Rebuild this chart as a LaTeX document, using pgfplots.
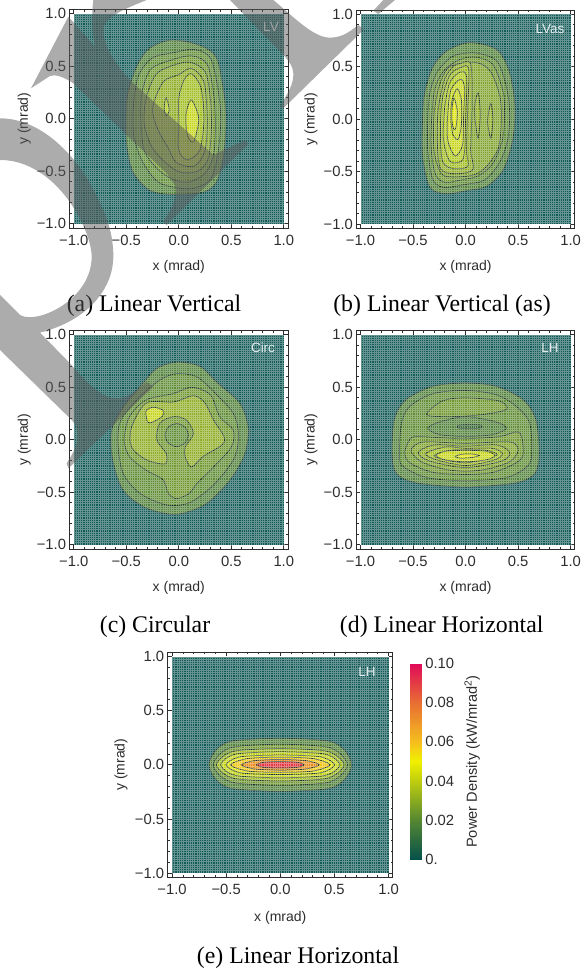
\documentclass[border=0pt]{standalone}
\usepackage{fontspec}
\setmainfont{Liberation Serif}
\setsansfont{Liberation Sans}
\usepackage{pgfplots}
\pgfplotsset{compat=1.18}
\definecolor{base}{RGB}{18,90,88}
\definecolor{c1}{RGB}{80,128,58}
\definecolor{c2}{RGB}{94,140,52}
\definecolor{c3}{RGB}{110,150,46}
\definecolor{c4}{RGB}{126,162,42}
\definecolor{c5}{RGB}{142,172,36}
\definecolor{c6}{RGB}{160,188,30}
\definecolor{c7}{RGB}{176,200,26}
\definecolor{c8}{RGB}{198,212,22}
\definecolor{c9}{RGB}{225,228,10}
\definecolor{o1}{RGB}{240,198,20}
\definecolor{o2}{RGB}{234,142,30}
\definecolor{o3}{RGB}{228,55,65}
\definecolor{v1}{RGB}{62,112,58}
\definecolor{cline}{RGB}{30,50,40}
\definecolor{txt}{RGB}{45,45,45}
\definecolor{wm}{RGB}{90,90,90}
\newcommand\C[2]{\addplot[fill=#1,draw=cline,line width=.75pt,smooth cycle] coordinates {#2};}
\newcommand\BG{\addplot[fill=base,draw=none] coordinates {(-1,-1)(1,-1)(1,1)(-1,1)} --cycle;}
\pgfplotsset{panel/.style={
  scale only axis, anchor=south west, width=218.4pt, height=218.4pt,
  xmin=-1.04,xmax=1.04,ymin=-1.04,ymax=1.04,
  xtick={-1,-.5,0,.5,1}, ytick={-1,-.5,0,.5,1},
  xticklabels={−1.0,−0.5,0.0,0.5,1.0}, yticklabels={−1.0,−0.5,0.0,0.5,1.0},
  minor x tick num=4, minor y tick num=4,
  tick align=inside, xtick pos=both, ytick pos=both, xticklabel pos=bottom, yticklabel pos=left,
  major tick length=4pt, minor tick length=2.2pt,
  axis line style={line width=.9pt,txt}, tick style={line width=.7pt,txt},
  tick label style={font=\fontsize{14.8}{14.8}\selectfont\sffamily,text=txt},
  xticklabel style={yshift=-3.5pt},
  xlabel={x (mrad)}, ylabel={y (mrad)},
  xlabel style={at={(axis description cs:0.5,-0.178)},anchor=center,font=\fontsize{14}{14}\selectfont\sffamily,text=txt},
  ylabel style={at={(axis description cs:-0.208,0.5)},rotate=0,anchor=center,font=\fontsize{14}{14}\selectfont\sffamily,text=txt},
}}
\newcommand\MESH[4]{% left, bottom, width, height (px, y up)
  \draw[white,opacity=.35,line width=.35pt]
  \foreach \i [evaluate=\i as \xx using #1+#3/97*\i] in {0,...,97} { (\xx pt,#2 pt) -- (\xx pt,#2 pt+#4 pt) }
  \foreach \i [evaluate=\i as \yy using #2+#4/97*\i] in {0,...,97} { (#1 pt,\yy pt) -- (#1 pt+#3 pt,\yy pt) };
}
\newcommand\CAP[3]{\node[font=\fontsize{23.8}{23.8}\selectfont,text=black] at (#1pt,966.5pt-#2pt) {#3};}
\newcommand\TAG[3]{\node[font=\fontsize{13.5}{13.5}\selectfont\sffamily,text=white,opacity=.85] at (#1pt,969pt-#2pt) {#3};}
\begin{document}
\begin{tikzpicture}
\clip (0,0) rectangle (586pt,969pt);
% (a)
\begin{axis}[panel,at={(69.6pt,741pt)}]
\BG
\C{c1}{(-.07,.75)(.2,.7)(.36,.58)(.43,.24)(.45,0)(.43,-.33)(.36,-.6)(.23,-.7)(-.07,-.72)(-.28,-.68)(-.44,-.5)(-.5,-.2)(-.49,.21)(-.4,.5)(-.28,.67)}
\C{c2}{(.15,.66)(.3,.58)(.37,.3)(.4,0)(.37,-.35)(.3,-.58)(.15,-.66)(0,-.66)(-.2,-.6)(-.35,-.4)(-.43,-.15)(-.43,.15)(-.38,.42)(-.25,.58)(-.05,.63)}
\C{c3}{(.12,.6)(.27,.52)(.33,.25)(.35,-.05)(.33,-.35)(.25,-.52)(.1,-.6)(-.05,-.58)(-.2,-.48)(-.33,-.3)(-.36,0)(-.35,.25)(-.27,.47)(-.1,.55)}
\C{c4}{(.1,.54)(.25,.45)(.3,.2)(.31,-.1)(.28,-.38)(.18,-.5)(.02,-.51)(-.1,-.44)(-.25,-.28)(-.33,-.05)(-.31,.2)(-.22,.42)(-.08,.5)}
\C{c5}{(.12,.48)(.24,.35)(.27,0)(.25,-.3)(.15,-.45)(-.02,-.42)(-.1,-.28)(-.2,-.1)(-.25,.1)(-.15,.35)(0,.42)}
\C{c6}{(.12,.43)(.21,.3)(.24,0)(.2,-.3)(.08,-.39)(0,-.3)(0,-.05)(0,.2)(.05,.37)}
\C{c7}{(-.12,.2)(-.09,.08)(-.12,.03)(-.14,.1)}
\C{c8}{(.12,.18)(.19,0)(.14,-.22)(.08,-.15)(.07,.05)}
\end{axis}
% (b)
\begin{axis}[panel,at={(356.4pt,740.6pt)}]
\BG
\C{c1}{(.04,.73)(.3,.66)(.42,.44)(.47,.12)(.45,-.19)(.36,-.48)(.2,-.64)(.01,-.68)(-.18,-.71)(-.34,-.65)(-.41,-.35)(-.41,0)(-.39,.25)(-.31,.5)(-.18,.65)}
\C{c2}{(.1,.63)(.3,.55)(.39,.3)(.42,.05)(.4,-.2)(.32,-.42)(.18,-.58)(0,-.62)(-.2,-.65)(-.31,-.58)(-.36,-.3)(-.36,0)(-.34,.25)(-.27,.45)(-.12,.6)}
\C{c3}{(.1,.59)(.26,.52)(.36,.25)(.37,0)(.35,-.2)(.26,-.42)(.12,-.54)(-.05,-.58)(-.2,-.6)(-.29,-.52)(-.33,-.25)(-.32,.05)(-.29,.3)(-.2,.47)(-.05,.57)}
\C{c4}{(.1,.54)(.24,.45)(.33,.2)(.34,-.05)(.31,-.28)(.2,-.45)(.08,-.53)(-.1,-.55)(-.23,-.52)(-.3,-.3)(-.3,.05)(-.25,.32)(-.15,.5)}
\C{c5}{(.12,.25)(.14,.05)(.12,-.18)(.09,0)(.09,.15)}
\C{c5}{(.24,.15)(.26,0)(.24,-.18)(.21,-.02)}
\C{c5}{(-.05,.53)(.05,.52)(.06,.1)(.05,-.3)(.07,-.48)(-.1,-.52)(-.24,-.47)(-.27,-.2)(-.26,.1)(-.2,.38)(-.12,.5)}
\C{c6}{(-.05,.49)(.03,.48)(.02,.1)(.01,-.3)(.02,-.45)(-.12,-.47)(-.22,-.4)(-.24,-.1)(-.22,.2)(-.15,.42)}
\C{c7}{(-.05,.45)(.01,.4)(0,0)(-.01,-.3)(-.04,-.4)(-.15,-.4)(-.21,-.2)(-.2,.1)(-.15,.35)}
\C{c8}{(-.05,.38)(-.01,.3)(-.02,0)(-.03,-.25)(-.1,-.35)(-.17,-.2)(-.17,.05)(-.14,.28)}
\C{c8}{(-.08,.29)(-.04,.18)(-.04,-.05)(-.07,-.19)(-.12,-.15)(-.14,0)(-.13,.18)}
\C{c9}{(-.11,.2)(-.08,.08)(-.09,-.07)(-.11,-.1)(-.13,-.02)(-.13,.1)}
\end{axis}
% (c)
\begin{axis}[panel,at={(69.6pt,420pt)}]
\BG
\C{c1}{(-.02,.74)(.2,.7)(.36,.55)(.58,.35)(.66,.12)(.63,-.13)(.49,-.38)(.26,-.61)(-.02,-.71)(-.31,-.65)(-.53,-.48)(-.63,-.19)(-.64,.09)(-.53,.31)(-.34,.54)(-.21,.68)}
\C{c2}{(-.02,.63)(.17,.6)(.33,.46)(.52,.25)(.57,.03)(.52,-.19)(.33,-.43)(.1,-.6)(-.12,-.62)(-.37,-.51)(-.53,-.32)(-.58,-.03)(-.55,.19)(-.37,.41)(-.18,.57)}
\C{c3}{(-.05,.44)(.12,.5)(.3,.43)(.39,.22)(.52,.09)(.5,-.07)(.33,-.26)(.17,-.42)(.1,-.51)(-.02,-.56)(-.1,-.51)(-.15,-.38)(-.31,-.29)(-.47,-.16)(-.52,0)(-.47,.22)(-.31,.38)}
\C{c5}{(-.05,.36)(.14,.42)(.25,.35)(.33,.19)(.43,.03)(.41,-.05)(.23,-.16)(.12,-.26)(.06,-.16)(.06,-.07)(.14,.06)(.07,.19)(-.05,.22)(-.18,.16)(-.21,0)(-.12,-.13)(-.13,-.23)(-.31,-.19)(-.45,-.07)(-.45,.12)(-.31,.35)}
\C{c2}{(-.02,.155)(.06,.12)(.09,.045)(.06,-.03)(-.02,-.065)(-.1,-.03)(-.13,.045)(-.1,.12)}
\C{c8}{(-.24,.31)(-.15,.28)(-.16,.22)(-.28,.16)(-.31,.22)(-.31,.28)}
\end{axis}
% (d)
\begin{axis}[panel,at={(356.4pt,420pt)}]
\BG
\C{c1}{(0,.54)(-.31,.51)(-.57,.38)(-.68,.19)(-.7,-.13)(-.66,-.32)(-.47,-.41)(0,-.45)(.48,-.41)(.66,-.32)(.7,-.13)(.67,.19)(.55,.38)(.29,.51)}
\C{c2}{(0,.47)(-.31,.44)(-.53,.32)(-.61,.16)(-.63,-.13)(-.6,-.25)(-.37,-.36)(0,-.39)(.39,-.36)(.59,-.25)(.63,-.13)(.61,.16)(.48,.32)(.29,.43)}
\C{c3}{(0,.4)(-.22,.37)(-.37,.24)(-.15,.22)(.16,.24)(.39,.29)(.32,.37)}
\C{c1}{(0,.22)(-.25,.17)(-.36,.11)(-.25,.05)(0,.03)(.26,.05)(.39,.11)(.29,.17)}
\C{v1}{(-.06,.14)(.14,.14)(.13,.11)(-.06,.11)}
\C{c3}{(-.49,.03)(-.25,.02)(0,.01)(.32,.03)(.51,.07)(.55,-.13)(.48,-.22)(.26,-.31)(0,-.33)(-.31,-.31)(-.53,-.22)(-.58,-.13)(-.55,-.03)}
\C{c4}{(-.4,-.02)(0,-.035)(.42,-.02)(.5,-.1)(.42,-.21)(.2,-.28)(0,-.3)(-.2,-.28)(-.42,-.21)(-.52,-.1)}
\C{c5}{(-.3,-.05)(0,-.06)(.3,-.05)(.42,-.12)(.35,-.2)(0,-.265)(-.35,-.2)(-.45,-.12)}
\C{c6}{(-.2,-.07)(0,-.08)(.25,-.08)(.35,-.13)(.28,-.19)(0,-.245)(-.28,-.19)(-.38,-.13)}
\C{c7}{(-.15,-.1)(0,-.095)(.2,-.1)(.3,-.14)(.2,-.18)(0,-.22)(-.2,-.19)(-.3,-.15)}
\C{c8}{(-.2,-.11)(0,-.1)(.2,-.11)(.28,-.15)(.2,-.19)(0,-.21)(-.2,-.19)(-.28,-.15)}
\C{c9}{(-.05,-.14)(.05,-.135)(.13,-.15)(.05,-.17)(-.05,-.175)(-.1,-.16)}
\end{axis}
% (e)
\begin{axis}[panel,at={(167.7pt,91.6pt)},width=225.2pt,height=225.2pt,
  xlabel style={at={(axis description cs:0.5,-0.18)}},
  ylabel style={at={(axis description cs:-0.207,0.5)}},
  colormap={pd}{rgb255(0)=(5,80,75); rgb255(2)=(85,135,50); rgb255(4)=(190,205,15); rgb255(5)=(240,240,0); rgb255(6)=(245,190,30); rgb255(8)=(232,110,50); rgb255(10)=(224,10,90)},
  point meta min=0, point meta max=0.1,
  colorbar,
  colorbar style={at={(parent axis.north east)},anchor=north west,xshift=8.7pt,yshift=-11.3pt,
    scale only axis,width=11.7pt,height=196pt,
    ymin=0,ymax=0.1,
    ytick={0,0.02,0.04,0.06,0.08,0.1},yticklabels={0.,0.02,0.04,0.06,0.08,0.10},
    major tick length=0pt,
    axis line style={draw=none},
    tick label style={font=\fontsize{14.8}{14.8}\selectfont\sffamily,text=txt},
    ylabel={Power Density (kW/mrad\textsuperscript{2})},
    ylabel style={font=\fontsize{14.6}{14.6}\selectfont\sffamily,text=txt,at={(axis description cs:5.3,0.5)},anchor=center,rotate=0},
  }]
\BG
\C{c1}{(0,.245)(-.44,.22)(-.59,.14)(-.66,0)(-.59,-.14)(-.44,-.22)(0,-.245)(.44,-.22)(.59,-.14)(.66,0)(.59,.14)(.44,.22)}
\C{c3}{(0,.19)(-.41,.168)(-.55,.106)(-.62,0)(-.55,-.106)(-.41,-.168)(0,-.19)(.41,-.168)(.55,-.106)(.62,0)(.55,.106)(.41,.168)}
\C{c6}{(0,.15)(-.39,.132)(-.52,.084)(-.59,0)(-.52,-.084)(-.39,-.132)(0,-.15)(.39,-.132)(.52,-.084)(.59,0)(.52,.084)(.39,.132)}
\C{c8}{(0,.12)(-.37,.105)(-.49,.067)(-.55,0)(-.49,-.067)(-.37,-.105)(0,-.12)(.37,-.105)(.49,-.067)(.55,0)(.49,.067)(.37,.105)}
\C{c9}{(0,.09)(-.33,.079)(-.44,.05)(-.5,0)(-.44,-.05)(-.33,-.079)(0,-.09)(.33,-.079)(.44,-.05)(.5,0)(.44,.05)(.33,.079)}
\C{o1}{(0,.07)(-.3,.058)(-.46,0)(-.3,-.058)(0,-.07)(.3,-.058)(.46,0)(.3,.058)}
\C{o2}{(0,.05)(-.24,.038)(-.36,0)(-.24,-.038)(0,-.05)(.24,-.038)(.36,0)(.24,.038)}
\C{o3}{(0,.03)(-.15,.024)(-.22,0)(-.15,-.024)(0,-.03)(.15,-.024)(.22,0)(.15,.024)}
\end{axis}
% mesh overlay
\MESH{74}{745}{210}{210}
\MESH{360.7}{744.5}{210}{210}
\MESH{74}{424.3}{210}{210}
\MESH{360.7}{424.3}{210}{210}
\MESH{172.3}{96.3}{216.4}{216}
% tags
\TAG{271}{27}{LV}
\TAG{550}{28.7}{LVas}
\TAG{263}{348}{Circ}
\TAG{550}{348}{LH}
\TAG{367}{672}{LH}
% captions
\CAP{154}{303}{(a) Linear Vertical}
\CAP{442}{303}{(b) Linear Vertical (as)}
\CAP{155}{624}{(c) Circular}
\CAP{441.7}{624}{(d) Linear Horizontal}
\CAP{298}{955}{(e) Linear Horizontal}
% watermark
\begin{scope}[x=0.33333pt,y=-0.33333pt,yshift=969pt]
\fill[wm,opacity=.5] (93,265)--(205,50)--(285,140)..controls(275,90)and(275,40)..(280,0)--(440,0)
  ..controls(380,25)and(310,50)..(310,90)..controls(310,140)and(350,200)..(400,250)--(640,465)--(735,420)--(745,432)--(500,675)--(490,665)
  ..controls(515,625)and(535,590)..(525,555)--(500,520)--(385,410)--(220,250)..controls(190,230)and(165,222)..(150,228)--cycle;
\fill[wm,opacity=.5] (690,0)--(820,0)..controls(880,50)and(940,113)..(990,113)..controls(1030,113)and(1055,90)..(1075,75)--(1092,88)--(850,325)--(840,318)
  ..controls(870,270)and(895,230)..(870,190)--(855,170)--cycle;
\fill[wm,opacity=.5] (1120,32)--(1150,0)--(1185,0)--(1135,42)--cycle;
\fill[wm,opacity=.5] (0,355)..controls(100,355)and(200,430)..(270,550)..controls(320,640)and(340,700)..(340,770)
  ..controls(340,860)and(270,960)..(120,998)--(210,1090)..controls(270,1160)and(310,1195)..(350,1195)..controls(385,1195)and(410,1170)..(440,1145)--(460,1160)--(205,1405)--(200,1390)
  ..controls(225,1350)and(232,1335)..(232,1310)..controls(232,1285)and(225,1270)..(215,1260)--(0,1050)--(0,885)--(60,945)
  ..controls(110,975)and(275,900)..(275,770)..controls(275,690)and(170,480)..(0,480)--cycle;
\end{scope}
\end{tikzpicture}
\end{document}
